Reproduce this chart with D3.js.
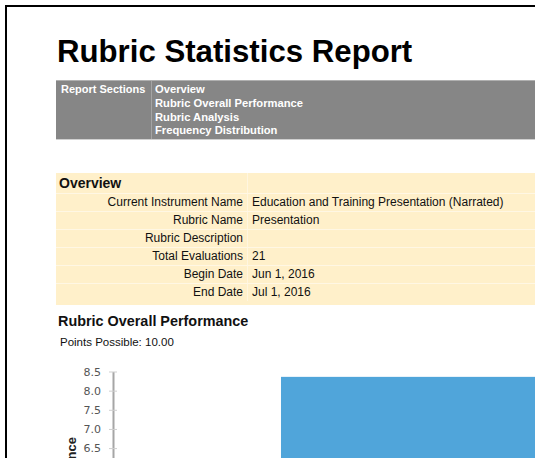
<!DOCTYPE html>
<html>
<head>
<meta charset="utf-8">
<script src="https://cdn.jsdelivr.net/npm/d3@7"></script>
<style>
  body { margin: 0; background: #fff; overflow: hidden; }
  svg { display: block; font-family: "Liberation Sans", Arial, sans-serif; }
</style>
</head>
<body>
<svg></svg>
<script>
// report content
const reportTitle = 'Rubric Statistics Report';
const reportSections = ['Overview', 'Rubric Overall Performance', 'Rubric Analysis', 'Frequency Distribution'];
const overviewLabels = ['Current Instrument Name', 'Rubric Name', 'Rubric Description', 'Total Evaluations', 'Begin Date', 'End Date'];
const overviewValues = ['Education and Training Presentation (Narrated)', 'Presentation', '', '21', 'Jun 1, 2016', 'Jul 1, 2016'];
const pointsPossible = '10.00';

// chart data (only the top of the chart is in view)
const categories = ['Presentation'];
const averageScores = [8.36];
const yTickValues = [6.5, 7, 7.5, 8, 8.5];

let width = 535;
let height = 458;

let svg = d3.select('svg')
    .attr('width', width)
    .attr('height', height);

// page frame (only left and top edges show in the crop)
svg.append('rect')
    .attr('x', 6).attr('y', 6)
    .attr('width', 700).attr('height', 700)
    .attr('fill', 'none')
    .attr('stroke', '#000')
    .attr('stroke-width', 2);

svg.append('text')
    .attr('x', 57).attr('y', 62)
    .style('font-size', '31.2px')
    .style('font-weight', 'bold')
    .attr('fill', '#000')
    .text(reportTitle);

// grey navigation band
let nav = svg.append('g');
nav.append('rect')
    .attr('x', 56).attr('y', 80)
    .attr('width', 520).attr('height', 59)
    .attr('fill', '#868686');
nav.append('line')
    .attr('x1', 56).attr('x2', 576).attr('y1', 80.5).attr('y2', 80.5)
    .attr('stroke', '#b0b0b0');
nav.append('line')
    .attr('x1', 56).attr('x2', 576).attr('y1', 139.5).attr('y2', 139.5)
    .attr('stroke', '#d0d0d0');
nav.append('line')
    .attr('x1', 151.5).attr('x2', 151.5).attr('y1', 81).attr('y2', 139)
    .attr('stroke', '#a4a4a4');
nav.append('text')
    .attr('x', 61).attr('y', 93)
    .style('font-size', '11px')
    .style('font-weight', 'bold')
    .attr('fill', '#fff')
    .text('Report Sections');
nav.selectAll('text.section')
    .data(reportSections)
    .enter()
    .append('text')
    .classed('section', true)
    .attr('x', 155)
    .attr('y', (d, i) => 93 + i * 13.8)
    .style('font-size', '11.2px')
    .style('font-weight', 'bold')
    .attr('fill', '#fff')
    .text(d => d);

// overview panel
let overview = svg.append('g');
overview.append('rect')
    .attr('x', 56).attr('y', 173)
    .attr('width', 520).attr('height', 132)
    .attr('fill', '#fff0ca');
overview.append('line')
    .attr('x1', 247.5).attr('x2', 247.5).attr('y1', 173).attr('y2', 301)
    .attr('stroke', '#fff6e0');
overview.selectAll('line.row')
    .data(overviewLabels)
    .enter()
    .append('line')
    .classed('row', true)
    .attr('x1', 56).attr('x2', 576)
    .attr('y1', (d, i) => 193.5 + i * 18)
    .attr('y2', (d, i) => 193.5 + i * 18)
    .attr('stroke', '#fff7e4');
overview.append('text')
    .attr('x', 59).attr('y', 187.5)
    .style('font-size', '14px')
    .style('font-weight', 'bold')
    .attr('fill', '#111')
    .text('Overview');
overview.selectAll('text.label')
    .data(overviewLabels)
    .enter()
    .append('text')
    .classed('label', true)
    .attr('x', 243)
    .attr('y', (d, i) => 206.3 + i * 17.9)
    .attr('text-anchor', 'end')
    .style('font-size', '12px')
    .attr('fill', '#111')
    .text(d => d);
overview.selectAll('text.value')
    .data(overviewValues)
    .enter()
    .append('text')
    .classed('value', true)
    .attr('x', 252)
    .attr('y', (d, i) => 206.3 + i * 17.9)
    .style('font-size', '12px')
    .attr('fill', '#111')
    .text(d => d);

// rubric overall performance section
svg.append('text')
    .attr('x', 58).attr('y', 326)
    .style('font-size', '14.4px')
    .style('font-weight', 'bold')
    .attr('fill', '#111')
    .text('Rubric Overall Performance');
svg.append('text')
    .attr('x', 60).attr('y', 346)
    .style('font-size', '11.5px')
    .attr('fill', '#111')
    .text('Points Possible: ' + pointsPossible);

// the chart
let y = d3.scaleLinear()
    .domain([0, 8.5])
    .range([697, 371.5]);

let x = d3.scaleBand()
    .domain(categories)
    .range([113, 760])
    .padding(0.3507);

let chart = svg.append('g');

chart.selectAll('rect.bar')
    .data(averageScores)
    .enter()
    .append('rect')
    .classed('bar', true)
    .attr('x', (d, i) => x(categories[i]))
    .attr('y', d => y(d))
    .attr('width', x.bandwidth())
    .attr('height', d => y(0) - y(d))
    .attr('fill', '#50a5da');

let yAxis = chart.append('g')
    .attr('transform', 'translate(113,0)')
    .call(d3.axisLeft(y)
        .tickValues(yTickValues)
        .tickFormat(d3.format('.1f'))
        .tickSizeInner(4)
        .tickSizeOuter(0)
        .tickPadding(8));

yAxis.select('.domain')
    .attr('stroke', '#a6a6a6')
    .attr('stroke-width', 2);
yAxis.selectAll('.tick line')
    .attr('x1', 4)
    .attr('stroke', '#cfcfcf');
yAxis.selectAll('.tick text')
    .attr('fill', '#555')
    .style('font-family', '"DejaVu Sans", sans-serif')
    .style('font-size', '11px');

chart.append('text')
    .attr('transform', 'translate(76,437) rotate(-90)')
    .attr('text-anchor', 'end')
    .style('font-size', '13px')
    .style('font-weight', 'bold')
    .attr('fill', '#222')
    .text('Average Performance');
</script>
</body>
</html>
